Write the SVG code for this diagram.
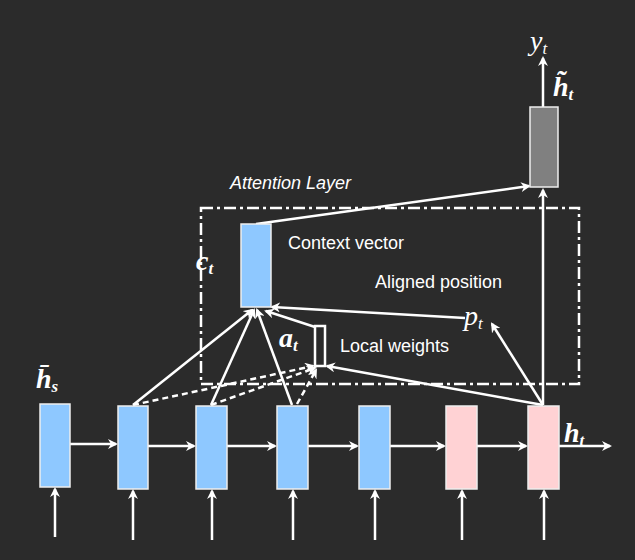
<svg xmlns="http://www.w3.org/2000/svg" width="635" height="560" viewBox="0 0 635 560">
<style>
.b{fill:#8ec8ff;stroke:#eee;stroke-width:1.5}
.p{fill:#ffd2d4;stroke:#eee;stroke-width:1.5}
.l{stroke:#fff;stroke-width:2.5;fill:none}
.d{stroke:#fff;stroke-width:2.5;fill:none;stroke-dasharray:6 4}
.s{font-family:"Liberation Sans",Arial,sans-serif;font-size:18px;fill:#fff}
.m{font-family:"Liberation Serif","DejaVu Serif",serif;font-style:italic;fill:#fff;font-size:28px}
</style>
<defs><marker id="a" markerWidth="10" markerHeight="10" refX="8" refY="5" orient="auto" markerUnits="userSpaceOnUse"><path d="M0,0 L10,5 L0,10 L3,5 Z" fill="#fff"/></marker></defs>
<rect width="635" height="560" fill="#2b2b2b"/>
<g id="connectors">
<line class="l" x1="55" y1="537" x2="55" y2="489" marker-end="url(#a)"/>
<line class="l" x1="133" y1="540" x2="133" y2="491" marker-end="url(#a)"/>
<line class="l" x1="212" y1="540" x2="212" y2="491" marker-end="url(#a)"/>
<line class="l" x1="293" y1="540" x2="293" y2="491" marker-end="url(#a)"/>
<line class="l" x1="375" y1="540" x2="375" y2="491" marker-end="url(#a)"/>
<line class="l" x1="462" y1="540" x2="462" y2="491" marker-end="url(#a)"/>
<line class="l" x1="544" y1="540" x2="544" y2="491" marker-end="url(#a)"/>
<line class="l" x1="70" y1="444" x2="116" y2="444" marker-end="url(#a)"/>
<line class="l" x1="148" y1="446" x2="194" y2="446" marker-end="url(#a)"/>
<line class="l" x1="227" y1="446" x2="275" y2="446" marker-end="url(#a)"/>
<line class="l" x1="308" y1="446" x2="357" y2="446" marker-end="url(#a)"/>
<line class="l" x1="390" y1="446" x2="444" y2="446" marker-end="url(#a)"/>
<line class="l" x1="477" y1="446" x2="526" y2="446" marker-end="url(#a)"/>
<line class="l" x1="559" y1="446" x2="610" y2="446" marker-end="url(#a)"/>
<line class="l" x1="543" y1="405" x2="543" y2="190" marker-end="url(#a)"/>
<line class="l" x1="543" y1="107" x2="543" y2="58" marker-end="url(#a)"/>
<line class="l" x1="256" y1="224" x2="529" y2="186" marker-end="url(#a)"/>
<line class="l" x1="133" y1="405" x2="252" y2="310" marker-end="url(#a)"/>
<line class="l" x1="211" y1="405" x2="254" y2="310" marker-end="url(#a)"/>
<line class="l" x1="292" y1="405" x2="257" y2="310" marker-end="url(#a)"/>
<line class="l" x1="315" y1="327" x2="266" y2="311" marker-end="url(#a)"/>
<line class="l" x1="465" y1="318" x2="272" y2="307" marker-end="url(#a)"/>
<line class="d" x1="133" y1="405" x2="313" y2="366" marker-end="url(#a)"/>
<line class="d" x1="211" y1="405" x2="315" y2="368" marker-end="url(#a)"/>
<line class="d" x1="297" y1="404" x2="316" y2="370" marker-end="url(#a)"/>
<line class="l" x1="543" y1="405" x2="327" y2="366" marker-end="url(#a)"/>
<line class="l" x1="543" y1="405" x2="492" y2="324" marker-end="url(#a)"/>
<rect x="201" y="208" width="378" height="176" fill="none" stroke="#fff" stroke-width="2.5" stroke-dasharray="12 4 3 4"/>
</g>
<g id="nodes">
<rect id="h1" class="b" x="40" y="404" width="30" height="83"/>
<rect id="h2" class="b" x="118" y="406" width="30" height="83"/>
<rect id="h3" class="b" x="196" y="406" width="31" height="83"/>
<rect id="h4" class="b" x="277" y="406" width="31" height="83"/>
<rect id="h5" class="b" x="359" y="406" width="31" height="83"/>
<rect id="h6" class="p" x="446" y="406" width="31" height="83"/>
<rect id="h7" class="p" x="528" y="406" width="31" height="83"/>
<rect id="ct" class="b" x="241" y="224" width="30" height="83"/>
<rect id="at" x="315" y="326" width="10" height="40" fill="none" stroke="#fff" stroke-width="2.5"/>
<rect id="ht" x="530" y="107" width="28" height="80" fill="#808080" stroke="#eee" stroke-width="1.5"/>
</g>
<g id="labels">
<text class="s" x="230" y="189" font-style="italic" font-size="19">Attention Layer</text>
<text class="s" x="288" y="249">Context vector</text>
<text class="s" x="375" y="288">Aligned position</text>
<text class="s" x="340" y="352">Local weights</text>
<text class="m" x="196" y="270" font-weight="bold">c<tspan font-size="17" dy="4">t</tspan></text>
<text class="m" x="279" y="347" font-weight="bold">a<tspan font-size="17" dy="4">t</tspan></text>
<text class="m" x="464" y="325">p<tspan font-size="17" dy="4">t</tspan></text>
<text class="m" x="36" y="388" font-weight="bold">h̄<tspan font-size="17" dy="4">s</tspan></text>
<text class="m" x="564" y="442" font-weight="bold">h<tspan font-size="17" dy="4">t</tspan></text>
<text class="m" x="530" y="50">y<tspan font-size="17" dy="4">t</tspan></text>
<text class="m" x="553" y="96" font-weight="bold">h̃<tspan font-size="17" dy="4">t</tspan></text>
</g>
</svg>
